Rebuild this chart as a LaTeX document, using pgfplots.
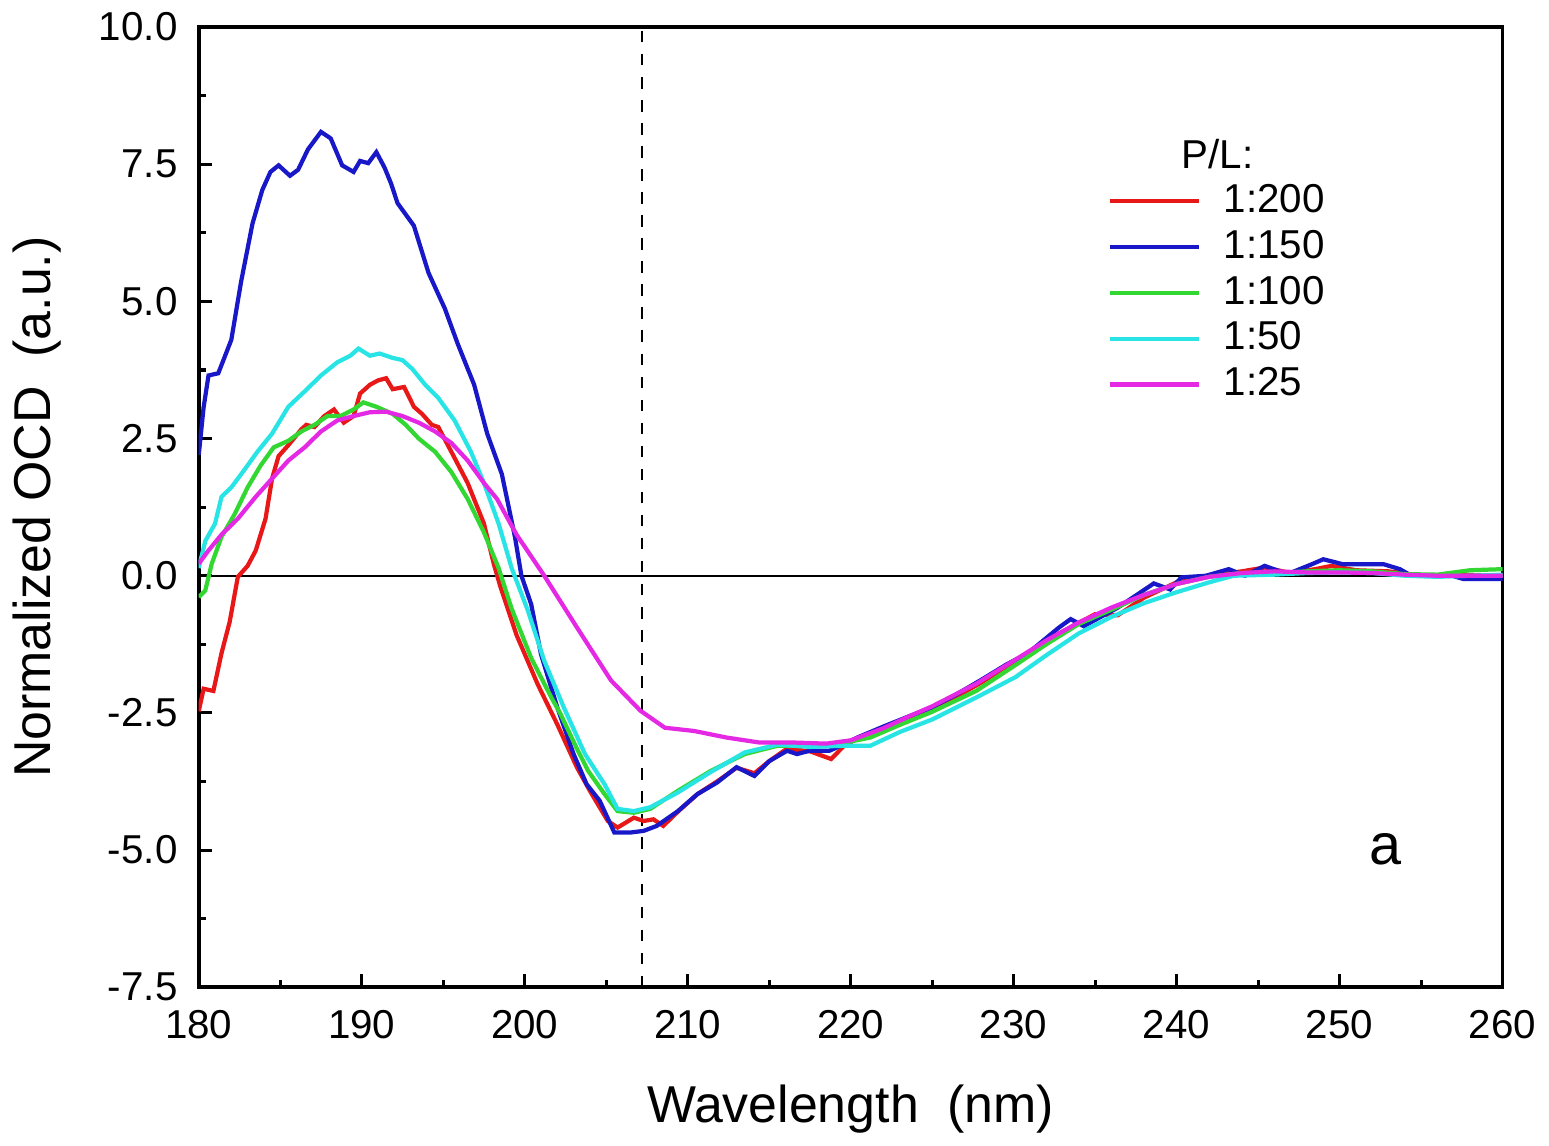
\documentclass[border=0pt]{standalone}
\usepackage{fontspec}
\setmainfont{Liberation Sans}
\usepackage{pgfplots}
\pgfplotsset{compat=1.18}

\definecolor{cdred}{RGB}{232,24,24}
\definecolor{cdblue}{RGB}{24,24,200}
\definecolor{cdgreen}{RGB}{50,215,50}
\definecolor{cdcyan}{RGB}{40,228,228}
\definecolor{cdmag}{RGB}{228,40,228}

\begin{document}
\begin{tikzpicture}
\begin{axis}[
  scale only axis, width=339.5pt, height=250pt,
  xmin=180, xmax=260, ymin=-7.5, ymax=10,
  xtick={180,190,...,260}, ytick={-7.5,-5,...,10},
  minor x tick num=1, minor y tick num=1,
  xtick pos=bottom, ytick pos=left,
  tick align=inside,
  major tick length=3.5pt, minor tick length=2pt,
  axis line style={line width=1pt},
  every tick/.style={black, line width=0.8pt},
  /pgf/number format/assume math mode=true,
  yticklabel style={xshift=-2pt, /pgf/number format/.cd, fixed, fixed zerofill, precision=1},
  xticklabel style={yshift=-2.5pt, /pgf/number format/.cd, fixed, precision=0},
  tick label style={font=\fontsize{10.5}{12}\selectfont},
  label style={font=\fontsize{13.5}{16}\selectfont},
  xlabel={Wavelength\ \ (nm)},
  xlabel shift=5pt,
  ylabel={Normalized OCD\ \ (a.u.)},
  ylabel shift=3pt,
  legend style={at={(0.697,0.845)}, anchor=north west, draw=none, fill=none,
    font=\fontsize{10.5}{12}\selectfont, row sep=-0.9pt, inner sep=0pt,
    /tikz/every odd column/.append style={column sep=4pt},
    /tikz/every even column/.append style={column sep=0pt}},
  legend cell align=left,
  legend image code/.code={\draw[#1, line width=1.1pt] (0pt,0pt) -- (23pt,0pt);},
  every axis plot/.append style={line width=1.1pt},
]
\draw[black, line width=0.5pt] (axis cs:180,0) -- (axis cs:260,0);
\draw[black, dashed, line width=0.6pt] (axis cs:207.2,-7.5) -- (axis cs:207.2,10);

\addplot[cdred] coordinates {(180.0,-2.47) (180.3,-2.06) (180.9,-2.10) (181.4,-1.41) (181.9,-0.84) (182.4,-0.02) (183.0,0.18) (183.5,0.46) (184.1,1.04) (184.5,1.77) (184.9,2.18) (185.5,2.38) (186.3,2.67) (186.6,2.75) (187.1,2.71) (187.7,2.91) (188.3,3.03) (188.9,2.79) (189.5,2.91) (189.9,3.32) (190.5,3.48) (191.0,3.56) (191.5,3.60) (191.9,3.40) (192.6,3.44) (193.2,3.08) (193.7,2.95) (194.3,2.75) (194.7,2.71) (195.5,2.26) (196.5,1.69) (197.5,0.95) (198.1,0.22) (198.5,-0.19) (199.5,-1.08) (200.8,-1.98) (202.0,-2.71) (203.2,-3.49) (204.0,-3.92) (205.1,-4.47) (205.7,-4.59) (206.7,-4.41) (207.3,-4.47) (207.9,-4.44) (208.5,-4.56) (209.4,-4.30) (210.6,-3.98) (211.8,-3.75) (213.0,-3.50) (214.1,-3.60) (215.0,-3.38) (216.1,-3.15) (217.5,-3.20) (218.8,-3.34) (219.6,-3.10) (220.4,-2.97) (222,-2.78) (223.6,-2.58) (225,-2.42) (226.5,-2.20) (228,-1.95) (229.6,-1.66) (231,-1.40) (233,-1.02) (235,-0.70) (236.4,-0.72) (238,-0.40) (240,-0.12) (242,0.0) (244,0.08) (245.4,0.15) (247,0.05) (248.5,0.12) (249.5,0.18) (251,0.10) (253,0.08) (255,0.0) (257,0.02) (260,0.0)};
\addlegendentry{1:200}

\addplot[cdblue] coordinates {(180.0,2.2) (180.3,3.07) (180.6,3.65) (181.2,3.69) (182.0,4.30) (182.6,5.36) (183.3,6.42) (183.9,7.03) (184.4,7.36) (184.9,7.48) (185.6,7.29) (186.1,7.40) (186.7,7.77) (187.5,8.09) (188.1,7.97) (188.8,7.48) (189.5,7.36) (189.9,7.56) (190.4,7.52) (190.9,7.72) (191.4,7.44) (191.8,7.15) (192.2,6.79) (193.2,6.38) (194.1,5.52) (195.1,4.87) (195.9,4.22) (196.9,3.48) (197.7,2.59) (198.6,1.85) (199.4,0.71) (199.8,0.0) (200.4,-0.52) (201.0,-1.43) (202.0,-2.40) (203.0,-3.25) (203.8,-3.80) (204.6,-4.10) (205.5,-4.68) (206.5,-4.68) (207.3,-4.65) (208.1,-4.56) (209.4,-4.29) (210.6,-3.98) (211.8,-3.77) (213.0,-3.49) (214.1,-3.65) (215.0,-3.38) (216.1,-3.19) (216.7,-3.25) (217.5,-3.19) (218.7,-3.19) (219.6,-3.07) (220.4,-2.95) (222,-2.75) (223.6,-2.56) (225,-2.40) (226.5,-2.16) (228,-1.90) (229.6,-1.61) (230.8,-1.43) (232.8,-0.94) (233.5,-0.79) (234.3,-0.92) (236.4,-0.58) (237.6,-0.34) (238.6,-0.14) (239.6,-0.25) (240.3,-0.03) (241.8,0.0) (243.2,0.12) (244.2,0.0) (245.4,0.18) (246.8,0.03) (248.3,0.21) (249.0,0.30) (250.2,0.21) (251.2,0.21) (252.7,0.21) (253.7,0.12) (254.4,0.0) (256.9,0.0) (257.6,-0.06) (260,-0.06)};
\addlegendentry{1:150}

\addplot[cdgreen] coordinates {(180.0,-0.39) (180.4,-0.27) (180.8,0.22) (181.4,0.71) (182.2,1.12) (183.0,1.61) (183.8,2.01) (184.6,2.34) (185.5,2.46) (186.3,2.63) (187.1,2.75) (187.9,2.91) (188.7,2.91) (189.5,3.03) (190.1,3.16) (190.9,3.08) (191.9,2.95) (192.7,2.75) (193.5,2.50) (194.5,2.26) (195.5,1.89) (196.5,1.40) (197.5,0.79) (198.4,0.14) (199.2,-0.60) (200.4,-1.50) (201.6,-2.20) (202.2,-2.52) (203.2,-3.15) (203.9,-3.56) (204.9,-3.98) (205.7,-4.29) (206.7,-4.32) (207.7,-4.25) (209.4,-3.92) (211.4,-3.56) (213.5,-3.25) (215.5,-3.10) (217.5,-3.10) (219.5,-3.05) (221.2,-2.95) (223,-2.72) (225,-2.48) (227.7,-2.10) (230,-1.65) (232,-1.25) (234,-0.88) (236,-0.62) (238,-0.35) (240,-0.15) (242,-0.02) (244,0.05) (246,0.05) (248,0.08) (250,0.10) (252,0.08) (254,0.03) (256,0.02) (258,0.10) (260,0.12)};
\addlegendentry{1:100}

\addplot[cdcyan] coordinates {(180.0,0.14) (180.4,0.63) (181.0,0.95) (181.4,1.44) (182.0,1.61) (182.8,1.93) (183.6,2.26) (184.5,2.59) (185.5,3.08) (186.5,3.36) (187.5,3.65) (188.5,3.89) (189.3,4.01) (189.8,4.14) (190.5,4.01) (191.1,4.05) (191.9,3.97) (192.5,3.93) (193.1,3.77) (193.9,3.48) (194.7,3.24) (195.7,2.83) (196.7,2.26) (197.5,1.69) (198.4,0.95) (199.2,0.14) (200.2,-0.64) (201.2,-1.55) (202.4,-2.40) (203.7,-3.25) (204.9,-3.80) (205.7,-4.25) (206.7,-4.29) (207.7,-4.22) (209.4,-3.95) (211.4,-3.58) (213.5,-3.22) (215.5,-3.08) (217.5,-3.12) (219.5,-3.10) (221.2,-3.10) (223,-2.85) (225,-2.62) (227.7,-2.22) (230.1,-1.85) (232,-1.45) (234,-1.05) (236,-0.75) (238,-0.50) (240,-0.30) (242,-0.12) (243.5,0.0) (246,0.02) (248,0.05) (250,0.06) (252,0.05) (254,0.0) (256,-0.02) (258,0.0) (260,0.02)};
\addlegendentry{1:50}

\addplot[cdmag] coordinates {(180.0,0.22) (180.6,0.46) (181.4,0.75) (182.4,1.04) (183.5,1.44) (184.5,1.77) (185.5,2.10) (186.5,2.34) (187.5,2.63) (188.5,2.83) (189.5,2.91) (190.5,2.98) (191.5,2.99) (192.5,2.91) (193.5,2.79) (194.5,2.63) (195.5,2.42) (196.5,2.10) (197.5,1.69) (198.3,1.40) (199.5,0.75) (201.2,0.0) (203.2,-0.94) (205.3,-1.91) (207.1,-2.46) (208.6,-2.77) (210.4,-2.83) (212.4,-2.95) (214.4,-3.04) (216.5,-3.04) (218.5,-3.06) (220,-3.0) (222,-2.78) (223.6,-2.56) (225,-2.38) (227.7,-1.97) (230,-1.55) (232,-1.18) (234,-0.85) (236,-0.58) (238,-0.35) (240,-0.15) (242,-0.02) (244,0.05) (246,0.08) (248,0.06) (250,0.06) (252,0.05) (254,0.02) (256,0.0) (258,0.0) (260,0.0)};
\addlegendentry{1:25}

\node[font=\fontsize{10.5}{12}\selectfont] at (axis cs:242.5,7.68) {P/L:};
\node[font=\fontsize{15}{18}\selectfont] at (axis cs:252.8,-4.98) {a};
\end{axis}
\end{tikzpicture}
\end{document}
